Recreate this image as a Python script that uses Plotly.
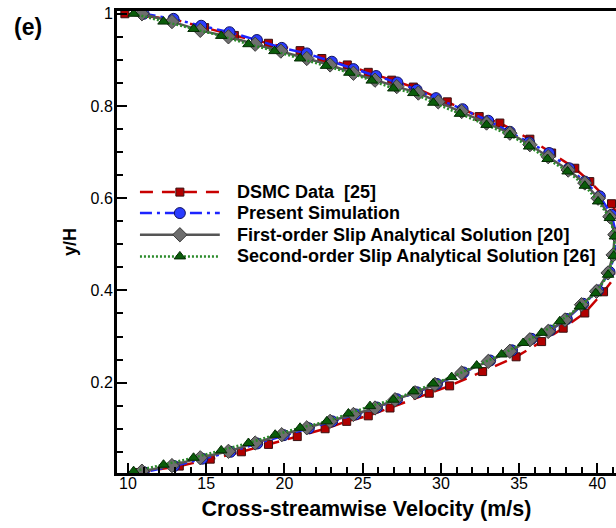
import plotly.graph_objects as go

# DSMC data [25]
dsmc_u = [9.8, 12.9, 14.9, 16.8, 18.98, 21.0, 22.39, 24.02, 25.36, 26.86, 28.24, 30.41,
          32.45, 33.77, 35.69, 37.08, 38.56, 39.52, 40.91, 41.5, 41.75, 41.6,
          40.4, 39.2, 37.82, 36.44, 34.81, 32.67, 30.56, 29.26, 26.75, 25.36, 23.98,
          22.6, 20.82, 18.98, 17.25, 15.26, 13.28, 10.6]
dsmc_y = [1.0, 0.988, 0.970, 0.953, 0.936, 0.920, 0.903, 0.889, 0.873, 0.856, 0.841, 0.809,
          0.777, 0.763, 0.728, 0.698, 0.665, 0.636, 0.588, 0.55, 0.50, 0.45,
          0.397, 0.351, 0.318, 0.289, 0.256, 0.224, 0.193, 0.177, 0.145, 0.128, 0.116,
          0.100, 0.083, 0.066, 0.050, 0.034, 0.019, 0.005]

# Present simulation
sim_u = [11.0, 12.91, 14.68, 16.49, 18.24, 19.83, 21.43, 23.03, 24.41, 25.86, 27.22, 28.45,
         29.69, 31.39, 33.03, 34.41, 35.64, 36.92, 38.2, 39.2, 40.16, 40.91,
         41.2, 41.1, 40.78, 40.05, 39.1, 38.05, 36.98, 35.8, 34.55, 33.15, 31.45, 29.75,
         28.48, 27.2, 25.92, 24.55, 23.05, 21.56, 19.96, 18.26, 16.55, 14.75, 12.94, 11.0]
sim_y = [1.0, 0.989, 0.974, 0.960, 0.943, 0.926, 0.914, 0.896, 0.880, 0.865, 0.851, 0.835,
         0.817, 0.793, 0.768, 0.744, 0.721, 0.698, 0.665, 0.636, 0.604, 0.564,
         0.523, 0.478, 0.440, 0.400, 0.371, 0.338, 0.313, 0.295, 0.270, 0.248, 0.222, 0.197,
         0.179, 0.164, 0.146, 0.131, 0.116, 0.101, 0.086, 0.068, 0.050, 0.035, 0.019, 0.006]

# First-order slip analytical solution [20]
first_u = [10.89, 12.81, 14.62, 16.42, 18.13, 19.77, 21.43, 22.92, 24.41, 25.79, 27.18, 28.56,
           29.83, 31.33, 32.92, 34.41, 35.69, 36.86, 38.14, 39.20, 40.05, 40.80, 41.12,
           41.01, 40.69, 39.95, 38.99, 37.93, 36.86, 35.69, 34.41, 33.03, 31.33, 29.62,
           28.35, 27.07, 25.79, 24.41, 22.92, 21.43, 19.83, 18.13, 16.42, 14.62, 12.81, 10.89]
first_y = [1.000, 0.983, 0.964, 0.950, 0.934, 0.919, 0.903, 0.889, 0.871, 0.856, 0.842, 0.828,
           0.809, 0.788, 0.763, 0.741, 0.716, 0.690, 0.661, 0.633, 0.600, 0.560, 0.521,
           0.477, 0.438, 0.398, 0.369, 0.336, 0.311, 0.293, 0.268, 0.246, 0.221, 0.196,
           0.178, 0.163, 0.145, 0.131, 0.116, 0.102, 0.087, 0.069, 0.051, 0.037, 0.020, 0.008]

# Second-order slip analytical solution [26]
second_u = [10.36, 12.27, 14.19, 15.96, 17.70, 19.36, 21.0, 22.66, 24.15, 25.58, 26.96, 28.24,
            29.52, 31.22, 32.92, 34.41, 35.64, 36.82, 38.1, 39.2, 40.05, 40.8, 41.12, 41.05,
            40.69, 39.9, 38.88, 37.6, 36.44, 35.26, 33.88, 32.29, 30.69, 29.51, 28.24, 26.96,
            25.47, 24.09, 22.71, 21.0, 19.41, 17.70, 15.96, 14.19, 12.27, 10.36]
second_y = [1.0, 0.983, 0.967, 0.952, 0.934, 0.919, 0.903, 0.887, 0.872, 0.855, 0.838, 0.828,
            0.807, 0.783, 0.759, 0.737, 0.712, 0.685, 0.658, 0.627, 0.593, 0.557, 0.517, 0.475,
            0.434, 0.394, 0.365, 0.333, 0.308, 0.286, 0.261, 0.237, 0.212, 0.198, 0.181, 0.163,
            0.149, 0.133, 0.116, 0.102, 0.087, 0.069, 0.053, 0.037, 0.022, 0.008]

x_ticks = [10, 15, 20, 25, 30, 35, 40]
y_ticks = [0.2, 0.4, 0.6, 0.8, 1.0]
y_tick_text = ["0.2", "0.4", "0.6", "0.8", "1"]

series = [
    ("DSMC Data  [25]", dsmc_u, dsmc_y,
     dict(color="#c80000", width=2.5, dash="13px,9px"),
     dict(symbol="square", size=8, color="#b00000", line=dict(color="#3a1010", width=1))),
    ("Present Simulation", sim_u, sim_y,
     dict(color="#1c24ff", width=2.5, dash="12px,5px,3px,5px"),
     dict(symbol="circle", size=11, color="#2a3cff", line=dict(color="#101060", width=1))),
    ("First-order Slip Analytical Solution [20]", first_u, first_y,
     dict(color="#555555", width=2.5, dash="solid"),
     dict(symbol="diamond", size=11, color="#6e6e6e", line=dict(color="#3a3a3a", width=1))),
    ("Second-order Slip Analytical Solution [26]", second_u, second_y,
     dict(color="#2a8a2a", width=2.5, dash="2px,2px"),
     dict(symbol="triangle-up", size=10, color="#0a5c0a", line=dict(color="#042a04", width=1))),
]

FONT = "Arial, 'Liberation Sans', sans-serif"

fig = go.Figure()
for name, u, y, line, marker in series:
    fig.add_trace(go.Scatter(x=u, y=y, mode="lines+markers", name=name,
                             line=line, marker=marker, showlegend=False))

# Legend block: a sample line, a centred marker and a bold label per series
leg_x0, leg_xm, leg_x1, leg_tx = 0.046, 0.126, 0.206, 0.2365
leg_rows = [0.608, 0.5626, 0.5157, 0.4688]
for (name, _, _, line, marker), row in zip(series, leg_rows):
    fig.add_trace(go.Scatter(x=[leg_x0, leg_x1], y=[row, row], xaxis="x2", yaxis="y2",
                             mode="lines", line=line, showlegend=False, hoverinfo="skip"))
    fig.add_trace(go.Scatter(x=[leg_xm], y=[row], xaxis="x2", yaxis="y2",
                             mode="markers", marker=marker, showlegend=False,
                             hoverinfo="skip"))
    fig.add_annotation(x=leg_tx, y=row, xref="paper", yref="paper", text="<b>%s</b>" % name,
                       showarrow=False, xanchor="left", yanchor="middle",
                       font=dict(family=FONT, size=18, color="black"))

fig.add_annotation(x=-0.178, y=0.965, xref="paper", yref="paper", text="<b>(e)</b>",
                   showarrow=False, xanchor="center", yanchor="middle",
                   font=dict(family=FONT, size=23, color="black"))

fig.update_layout(
    width=616, height=528,
    margin=dict(l=117, r=0, t=11, b=55),
    paper_bgcolor="white", plot_bgcolor="white",
    font=dict(family=FONT, size=16, color="black"),
    xaxis=dict(range=[9.297, 41.195], tickvals=x_ticks, ticks="inside", ticklen=10,
               tickwidth=2, tickcolor="black", showline=True, linewidth=3,
               linecolor="black", mirror=True, showgrid=False, zeroline=False,
               minor=dict(dtick=1, ticks="inside", ticklen=6, tickwidth=1.5,
                          tickcolor="black", showgrid=False),
               tickfont=dict(size=16), ticklabelstandoff=-6,
               title=dict(text="<b>Cross-streamwise Velocity (m/s)</b>",
                          font=dict(size=21.5), standoff=10)),
    yaxis=dict(range=[0.004, 1.006], tickvals=y_ticks, ticktext=y_tick_text,
               ticks="inside", ticklen=10, tickwidth=2, tickcolor="black",
               showline=True, linewidth=3, linecolor="black", showgrid=False,
               zeroline=False, ticklabelstandoff=-2,
               minor=dict(tickvals=[0.05, 0.1, 0.15, 0.25, 0.3, 0.35, 0.45, 0.5, 0.55,
                                    0.65, 0.7, 0.75, 0.85, 0.9, 0.95],
                          ticks="inside", ticklen=6, tickwidth=1.5, tickcolor="black",
                          showgrid=False),
               tickfont=dict(size=16),
               title=dict(text="<b>y/H</b>", font=dict(size=18), standoff=10)),
    xaxis2=dict(range=[0, 1], overlaying="x", visible=False, fixedrange=True),
    yaxis2=dict(range=[0, 1], overlaying="y", visible=False, fixedrange=True),
)

fig.write_html("out.html")
